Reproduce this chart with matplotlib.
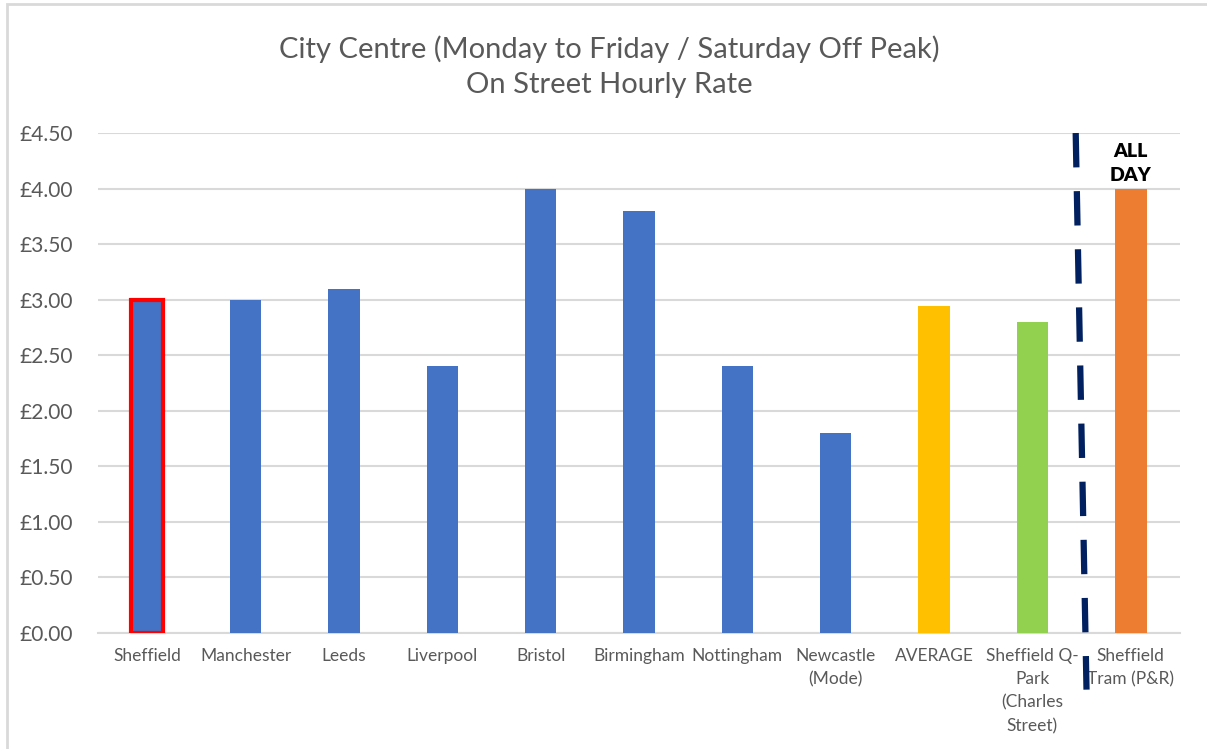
import matplotlib.pyplot as plt
from matplotlib.patches import Rectangle

plt.rcParams['font.family'] = ['Lato', 'DejaVu Sans']

cities = ['Sheffield', 'Manchester', 'Leeds', 'Liverpool', 'Bristol', 'Birmingham',
          'Nottingham', 'Newcastle\n(Mode)', 'AVERAGE', 'Sheffield Q-\nPark\n(Charles\nStreet)',
          'Sheffield\nTram (P&R)']
rates = [3.00, 3.00, 3.10, 2.40, 4.00, 3.80, 2.40, 1.80, 2.94, 2.80, 4.00]
colours = ['#4472C4'] * 8 + ['#FFC000', '#92D050', '#ED7D31']
yticks = [0, 0.5, 1.0, 1.5, 2.0, 2.5, 3.0, 3.5, 4.0, 4.5]

grey = '#595959'

fig = plt.figure(figsize=(12.07, 7.49), dpi=100)
ax = fig.add_axes([0.0812, 0.1549, 0.8964, 0.6675])

fig.patches.append(Rectangle((7 / 1207, -0.1), 1.2, 1.1 - 4 / 749, transform=fig.transFigure,
                             fill=False, edgecolor='#d9d9d9', linewidth=2))

x = range(len(cities))
bars = ax.bar(x, rates, width=0.32, color=colours, zorder=3)
bars[0].set_edgecolor('#FF0000')
bars[0].set_linewidth(3)

ax.set_xlim(-0.5, len(cities) - 0.5)
ax.set_ylim(0, 4.5)
ax.set_yticks(yticks)
ax.set_yticklabels([f'£{v:.2f}' for v in yticks], fontsize=15, color=grey)
ax.set_xticks(list(x))
ax.set_xticklabels(cities, fontsize=12.5, color=grey, linespacing=1.55, va='top')
ax.tick_params(length=0, pad=11)
ax.tick_params(axis='y', pad=18)
ax.grid(axis='y', color='#d9d9d9', linewidth=1.5, zorder=0)
for s in ['top', 'right', 'left']:
    ax.spines[s].set_visible(False)
ax.spines['bottom'].set_color('#d9d9d9')
ax.spines['bottom'].set_linewidth(1.5)

# separator before the all-day tram rate
ax.plot([9.44, 9.55], [4.5, -0.51], color='#002060', linewidth=4.5,
        linestyle=(0, (5.5, 3.8)), clip_on=False, zorder=4)
ax.text(10, 4.04, 'ALL\nDAY', ha='center', va='bottom', fontsize=14,
        fontweight='heavy', color='black', linespacing=1.5)

fig.text(0.505, 0.911, 'City Centre (Monday to Friday / Saturday Off Peak)\nOn Street Hourly Rate',
         ha='center', va='center', fontsize=21, color=grey, linespacing=1.45)

fig.savefig('out.png', dpi=100)
